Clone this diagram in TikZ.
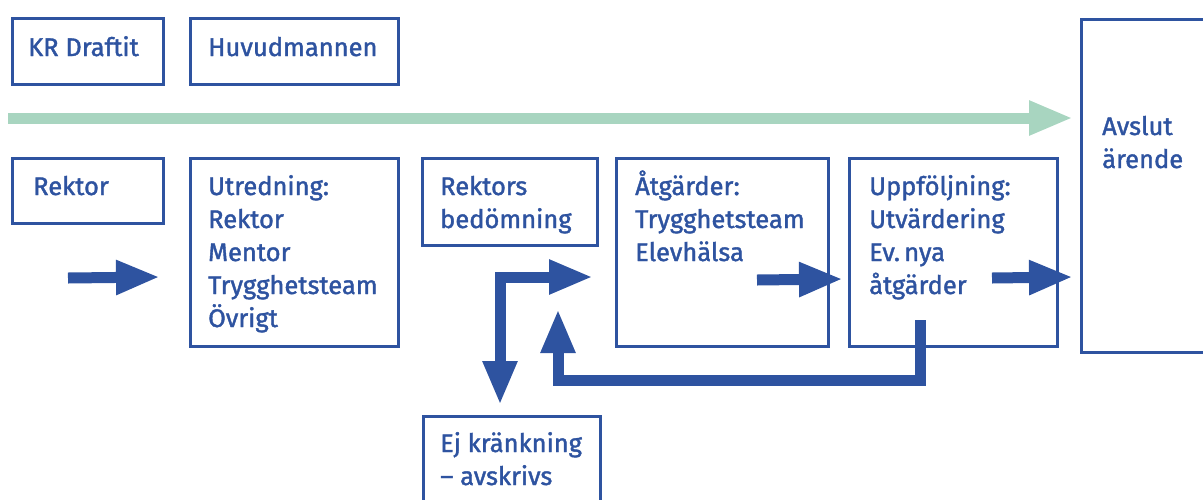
\documentclass[tikz,border=0pt]{standalone}
\usepackage{fontspec}
\setmainfont{Fira Sans}[FakeBold=1.5]
\usetikzlibrary{arrows.meta}
\definecolor{flowblue}{RGB}{46,83,160}
\definecolor{flowgreen}{RGB}{168,213,192}

\begin{document}
\begin{tikzpicture}[x=1pt, y=-1pt,
		box/.style={draw=flowblue, line width=2.6pt, anchor=north west, inner sep=0pt},
		txt/.style={text=flowblue, anchor=base west, align=left, inner sep=0pt, font=\fontsize{25.5}{33}\selectfont},
		fat/.style={draw=flowblue, line width=11pt, line join=miter, -{Triangle[length=44pt, width=32pt]}},
		both/.style={draw=flowblue, line width=11pt, line join=miter, {Triangle[length=44pt, width=32pt]}-{Triangle[length=44pt, width=32pt]}}]
			%%%%% START %%%%%
			\useasboundingbox (0, 0) rectangle (1203, 499);
			
			% top row
			\node[box, minimum width=151pt, minimum height=66pt] (kr) at (11, 17) {};
			\node[txt] at (28, 56) {KR Draftit};
			\node[box, minimum width=208pt, minimum height=66pt] (huvud) at (189, 17) {};
			\node[txt] at (208, 56) {Huvudmannen};
			
			\node[box, minimum width=140pt, minimum height=333pt] (avslut) at (1080, 18) {};
			\node[txt] at (1102, 168) {Avslut\\ärende};
			
			\coordinate (gstart) at (8, 118);
			\coordinate (gend) at (1073, 118);
			\draw[fat, draw=flowgreen] (gstart) -- (gend);
			
			% process row (multi line texts sit on their last baseline)
			\node[box, minimum width=151pt, minimum height=65pt] (rektor) at (11, 157) {};
			\node[txt] at (33, 195) {Rektor};
			\node[box, minimum width=208pt, minimum height=188pt] (utr) at (189, 157) {};
			\node[txt] at (208, 327) {Utredning:\\Rektor\\Mentor\\Trygghetsteam\\Övrigt};
			\node[box, minimum width=175pt, minimum height=87pt] (bed) at (421, 157) {};
			\node[txt] at (440, 228) {Rektors\\bedömning};
			\node[box, minimum width=212pt, minimum height=188pt] (atg) at (615, 157) {};
			\node[txt] at (635, 261) {Åtgärder:\\Trygghetsteam\\Elevhälsa};
			\node[box, minimum width=208pt, minimum height=188pt] (uppf) at (848, 157) {};
			\node[txt] at (869, 294) {Uppföljning:\\Utvärdering\\Ev.\,nya\\åtgärder};
			\node[box, minimum width=177pt, minimum height=100pt] (ej) at (422, 415) {};
			\node[txt] at (440, 485) {Ej kränkning\\– avskrivs};
			
			% arrows
			\coordinate (a1) at (68, 278);
			\coordinate (a1t) at (160, 277);
			\draw[fat] (a1) -- (a1t);
			
			\coordinate (ejtip) at (500, 405);
			\coordinate (bedtip) at (593, 277);
			\draw[both] (ejtip) |- (bedtip);
			
			\coordinate (a3) at (757, 280);
			\coordinate (a3t) at (843, 279);
			\draw[fat] (a3) -- (a3t);
			
			\coordinate (a4) at (992, 278);
			\coordinate (a4t) at (1073, 277);
			\draw[fat] (a4) -- (a4t);
			
			\coordinate (back) at (920, 320);
			\coordinate (backt) at (558, 309);
			\draw[fat] (back) -- (920, 380) -| (backt);
			
			%%%%% END %%%%%
\end{tikzpicture}
\end{document}
